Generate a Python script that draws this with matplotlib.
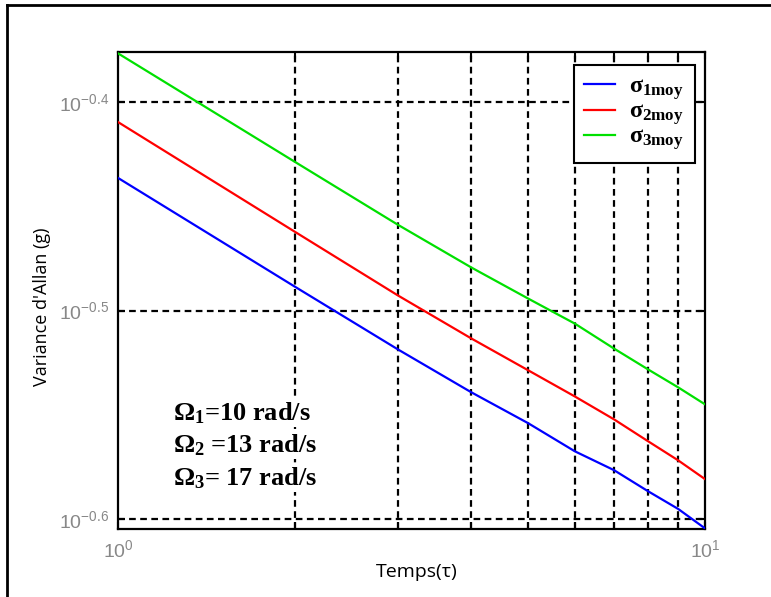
import matplotlib
matplotlib.use("Agg")
import matplotlib.pyplot as plt
from matplotlib.ticker import FixedLocator, FixedFormatter, NullLocator, NullFormatter
from matplotlib.lines import Line2D

# ---- data ----
tau = [1, 2, 3, 4, 5, 6, 7, 8, 9, 10]
sigma1 = [0.3661, 0.3247, 0.3029, 0.2889, 0.2792, 0.2707, 0.2651, 0.2590, 0.2540, 0.2486]
sigma2 = [0.3894, 0.3450, 0.3215, 0.3066, 0.2960, 0.2876, 0.2804, 0.2737, 0.2680, 0.2625]
sigma3 = [0.4201, 0.3727, 0.3476, 0.3316, 0.3204, 0.3117, 0.3032, 0.2963, 0.2905, 0.2851]
series_labels = [r"$\sigma_{1moy}$", r"$\sigma_{2moy}$", r"$\sigma_{3moy}$"]
series_colors = ["#0000ff", "#ff0000", "#00e000"]
omega_lines = [r"$\Omega_1$=10 rad/s", r"$\Omega_2$ =13 rad/s", r"$\Omega_3$= 17 rad/s"]
ytick_vals = [10 ** -0.6, 10 ** -0.5, 10 ** -0.4]
ytick_labels = [r"$\mathdefault{10^{-0.6}}$", r"$\mathdefault{10^{-0.5}}$", r"$\mathdefault{10^{-0.4}}$"]
xtick_vals = [1, 10]
xtick_labels = [r"$\mathdefault{10^{0}}$", r"$\mathdefault{10^{1}}$"]
xminor_vals = [2, 3, 4, 5, 6, 7, 8, 9]
xlabel = "Temps(τ)"
ylabel = "Variance d'Allan (g)"

plt.rcParams["font.family"] = ["Liberation Sans", "DejaVu Sans"]
plt.rcParams["mathtext.fontset"] = "custom"
plt.rcParams["mathtext.rm"] = "Liberation Serif:bold"
plt.rcParams["mathtext.it"] = "Liberation Serif:bold"
plt.rcParams["mathtext.bf"] = "Liberation Serif:bold"

W, H = 771, 597
fig = plt.figure(figsize=(W / 100, H / 100), dpi=100)
L, R, T, B = 118, 705, 52, 529
ax = fig.add_axes([L / W, 1 - B / H, (R - L) / W, (B - T) / H])

for ys, c, lab in zip([sigma1, sigma2, sigma3], series_colors, series_labels):
    ax.plot(tau, ys, color=c, lw=1.6, label=lab, zorder=3)

ax.set_xscale("log")
ax.set_yscale("log")
ax.set_xlim(1, 10)
ax.set_ylim(10 ** -0.6048, 10 ** -0.3760)

ax.xaxis.set_major_locator(FixedLocator(xtick_vals))
ax.xaxis.set_major_formatter(FixedFormatter(xtick_labels))
ax.xaxis.set_minor_locator(FixedLocator(xminor_vals))
ax.xaxis.set_minor_formatter(NullFormatter())
ax.yaxis.set_major_locator(FixedLocator(ytick_vals))
ax.yaxis.set_major_formatter(FixedFormatter(ytick_labels))
ax.yaxis.set_minor_locator(NullLocator())
ax.yaxis.set_minor_formatter(NullFormatter())

gstyle = dict(color="black", linestyle=(0, (3, 2)), linewidth=1.6)
ax.grid(True, which="major", axis="y", **gstyle)
ax.grid(True, which="minor", axis="x", **gstyle)
ax.set_axisbelow(True)

ax.tick_params(which="both", direction="in", top=True, right=True, length=5, width=1.5,
               labelsize=14, labelcolor="#888888")
ax.tick_params(axis="x", which="major", pad=7)
ax.tick_params(axis="y", which="major", pad=6)
for s in ax.spines.values():
    s.set_linewidth(1.6)
    s.set_color("black")

ax.set_xlabel(xlabel, fontsize=14, family=["Open Sans", "DejaVu Sans"], va="center")
ax.xaxis.set_label_coords((417 - L) / (R - L), -(572 - B) / (B - T))
ax.set_ylabel(ylabel, fontsize=13, family=["Open Sans", "DejaVu Sans"], va="center")
ax.yaxis.set_label_coords((42 - L) / (R - L), 1 - (307 - T) / (B - T))

leg = ax.legend(loc="upper right", bbox_to_anchor=(1 - 10 / (R - L), 1 - 13 / (B - T)),
                borderaxespad=0, fontsize=17.5, fancybox=False, framealpha=1,
                edgecolor="black", handlelength=1.25, handletextpad=0.6,
                labelspacing=-0.05, borderpad=0.45)
leg.get_frame().set_linewidth(1.5)

y_px = [413, 445, 478]
for txt, yp in zip(omega_lines, y_px):
    ax.text((173 - L) / (R - L), 1 - (yp - T) / (B - T), txt, transform=ax.transAxes,
            ha="left", va="center", fontsize=19, family="Liberation Serif", weight="bold",
            bbox=dict(facecolor="white", edgecolor="none", pad=1), zorder=4)

# outer frame lines
fig.add_artist(Line2D([7 / W, 7 / W], [0, 1 - 5 / H], transform=fig.transFigure, color="black", lw=2))
fig.add_artist(Line2D([7 / W, 1], [1 - 5 / H, 1 - 5 / H], transform=fig.transFigure, color="black", lw=2))

fig.savefig("out.png", dpi=100)
